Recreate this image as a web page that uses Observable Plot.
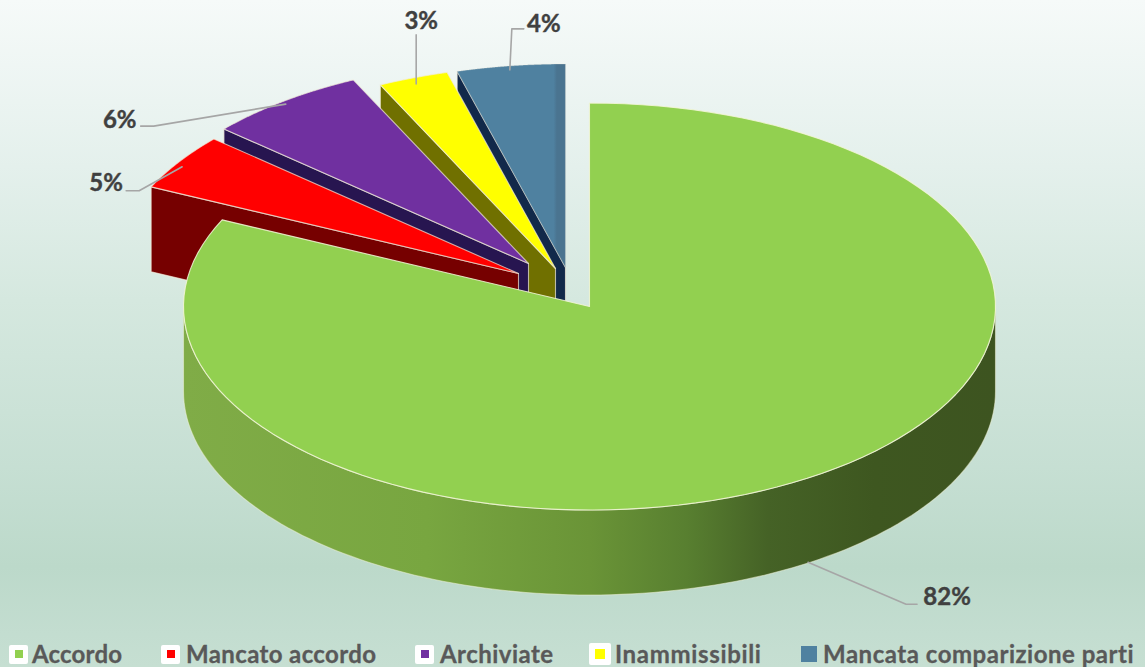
<!DOCTYPE html>
<html lang="it">
<head>
<meta charset="utf-8">
<script src="https://cdn.jsdelivr.net/npm/d3@7"></script>
<script src="https://cdn.jsdelivr.net/npm/@observablehq/plot@0.6"></script>
<style>
html,body{margin:0;padding:0;width:1145px;height:667px;overflow:hidden;}
body{background:linear-gradient(180deg,#f6faf9 0%,#e4f0ec 25%,#d5e8df 45%,#c6dfd3 70%,#bcd9ca 85%,#c3ddd0 95%,#c6dfd2 100%);font-family:Lato,"Open Sans",sans-serif;}
#chart svg{display:block;background:transparent;}
#legend{position:relative;width:1145px;height:27px;}
#legend .sw{position:absolute;box-sizing:border-box;display:flex;align-items:center;justify-content:center;border-radius:2px;}
#legend .sw i{display:block;}
#legend .tx{position:absolute;top:0;font-weight:700;font-size:24px;line-height:27px;height:27px;color:#595959;white-space:nowrap;-webkit-text-stroke:0.3px #595959;}
</style>
</head>
<body>
<div id="chart"></div>
<div id="legend"></div>
<script>
const categories = ["Accordo", "Mancato accordo", "Archiviate", "Inammissibili", "Mancata comparizione parti"];
const shares = [82.0, 4.5, 6.4, 2.8, 4.3];

// --- styles ---
const topColors = ["#92d050", "#ff0000", "#7030a0", "#ffff00", "#4f81a0"];
const topFills = ["#92d050", "#ff0000", "#7030a0", "#ffff00", "url(#blueTop)"];
const sideColors = ["url(#rim)", "#760000", "#271550", "#707000", "#12294a"];

// --- pie layout (pixels of the plot frame) ---
const W = 1145, H = 640;
const cx = 589, cy = 306, rx = 406, ry = 203.5, depth = 85;
const explodePx = [[0, 0], [-71, -33], [-61, -43], [-34, -38], [-24, -39]];
const leaderPx = [
  {start: [1, -1], elbow: [99, 41], end: [110, 41], label: [140, 34]},
  {start: [3, 5], elbow: [-40, 29], end: [-53, 29], label: [-73, 22]},
  {start: [2, 3], elbow: [-130, 25], end: [-143, 25], label: [-164, 19]},
  {start: [3, 6], elbow: [3, -43], end: [3, -43], label: [8, -57]},
  {start: [-1, 4], elbow: [1, -37], end: [13, -37], label: [33, -42]}
];
const legendPos = [
  {sw: 9, sz: 19, inner: 8, tx: 32, w: 90, halo: true},
  {sw: 161, sz: 19, inner: 8, tx: 186, w: 190, halo: true},
  {sw: 415, sz: 19, inner: 8, tx: 440, w: 113, halo: true},
  {sw: 589, sz: 22, inner: 10, tx: 615, w: 146, halo: true},
  {sw: 801, sz: 16, inner: 16, tx: 823, w: 311, halo: false}
];

// --- geometry in unit-circle coordinates; the Plot scales map it to the frame ---
const ux = d => d / rx, uy = d => -d / ry;
const total = d3.sum(shares);
let acc = 0;
const slices = shares.map((s, i) => {
  const a0 = acc / total * 2 * Math.PI; acc += s;
  const a1 = acc / total * 2 * Math.PI;
  return {i, a0, a1, mid: (a0 + a1) / 2, ox: ux(explodePx[i][0]), oy: uy(explodePx[i][1])};
});
const dv = uy(depth);
const arc = (s, a0, a1, n = 120) => d3.range(n + 1).map(k => {
  const a = a0 + (a1 - a0) * k / n;
  return {u: s.ox + Math.sin(a), v: s.oy + Math.cos(a)};
});
const topFace = s => {
  const apex = {u: s.ox, v: s.oy};
  return [apex, ...arc(s, s.a0, s.a1), apex];
};
const cutFace = (s, a) => {
  const apex = {u: s.ox, v: s.oy}, rim = {u: s.ox + Math.sin(a), v: s.oy + Math.cos(a)};
  const low = p => ({u: p.u, v: p.v + dv});
  return [apex, rim, low(rim), low(apex), apex];
};
const rimBand = s => {
  const up = arc(s, Math.PI / 2, 3 * Math.PI / 2);
  return [...up, ...up.slice().reverse().map(p => ({u: p.u, v: p.v + dv})), up[0]];
};
const poly = (pts, fill, stroke = "#f2ecdc", strokeOpacity = 0.7) =>
  Plot.line(pts, {x: "u", y: "v", curve: "linear", fill, stroke, strokeOpacity, strokeWidth: 1.1, strokeLinejoin: "round"});

const leaders = slices.map(s => {
  const L = leaderPx[s.i];
  const front = Math.cos(s.mid) < 0 ? dv : 0;
  const bu = s.ox + Math.sin(s.mid), bv = s.oy + Math.cos(s.mid) + front;
  const at = p => ({u: bu + ux(p[0]), v: bv + uy(p[1])});
  return {share: s.i, pts: [at(L.start), at(L.elbow), at(L.end)], label: at(L.label), text: Math.round(shares[s.i]) + "%"};
});

const defs = () => {
  const d = d3.create("svg:defs");
  const g = d.append("linearGradient").attr("id", "rim").attr("x1", 0).attr("x2", 1).attr("y1", 0).attr("y2", 0);
  [[0, "#80ac47"], [0.3, "#78a640"], [0.5, "#6a9437"], [0.62, "#587f30"], [0.72, "#456226"], [0.85, "#3e5720"], [1, "#3d5420"]]
    .forEach(([o, c]) => g.append("stop").attr("offset", o).attr("stop-color", c));
  const b = d.append("linearGradient").attr("id", "blueTop").attr("x1", 0).attr("x2", 1).attr("y1", 0).attr("y2", 0);
  [[0, "#4f81a0"], [0.89, "#4f81a0"], [0.92, "#4a7490"], [1, "#4a7490"]]
    .forEach(([o, c]) => b.append("stop").attr("offset", o).attr("stop-color", c));
  return d.node();
};

// painted from back to front so nearer slices hide farther cut faces
const backToFront = [4, 3, 2, 1];
const sliceMarks = backToFront.flatMap(i => {
  const s = slices[i];
  return [
    poly(cutFace(s, s.a0), sideColors[i]),
    poly(topFace(s), topFills[i], "#f2ecdc", i === 4 ? 0.25 : 0.7)
  ];
});

const plot = Plot.plot({
  width: W, height: H,
  margin: 0,
  style: {background: "transparent"},
  x: {domain: [ux(0 - cx), ux(W - cx)], range: [0, W], axis: null},
  y: {domain: [uy(0 - cy), uy(H - cy)], range: [0, H], axis: null},
  marks: [
    defs,
    ...sliceMarks,
    poly(rimBand(slices[0]), sideColors[0], "#eef2d8", 0.55),
    poly(topFace(slices[0]), topColors[0], "#f3f6d8", 0.85),
    ...leaders.map(l => Plot.line(l.pts, {x: "u", y: "v", curve: "linear", stroke: "#a6a6a6", strokeWidth: 1.6})),
    Plot.text(leaders, {
      x: d => d.label.u, y: d => d.label.v, text: "text",
      fontFamily: "Lato, 'Open Sans', sans-serif", fontWeight: 700, fontSize: 24,
      fill: "#404040", stroke: "#404040", strokeWidth: 0.4, textAnchor: "middle", lineAnchor: "middle"
    })
  ]
});
document.getElementById("chart").append(plot);

// --- legend below the SVG ---
const legend = d3.select("#legend");
categories.forEach((name, i) => {
  const p = legendPos[i];
  const box = legend.append("div").attr("class", "sw")
    .style("left", p.sw + "px").style("top", (p.halo ? 14 - p.sz / 2 : 6) + "px")
    .style("width", p.sz + "px").style("height", p.sz + "px")
    .style("background", p.halo ? "#fff" : "transparent");
  box.append("i").style("width", p.inner + "px").style("height", p.inner + "px").style("background", topColors[i]);
  const t = legend.append("div").attr("class", "tx").style("left", p.tx + "px").text(name);
  const n = t.node(), w = n.getBoundingClientRect().width;
  t.style("letter-spacing", ((p.w - w) / Math.max(1, name.length - 1)).toFixed(2) + "px");
});
</script>
</body>
</html>
